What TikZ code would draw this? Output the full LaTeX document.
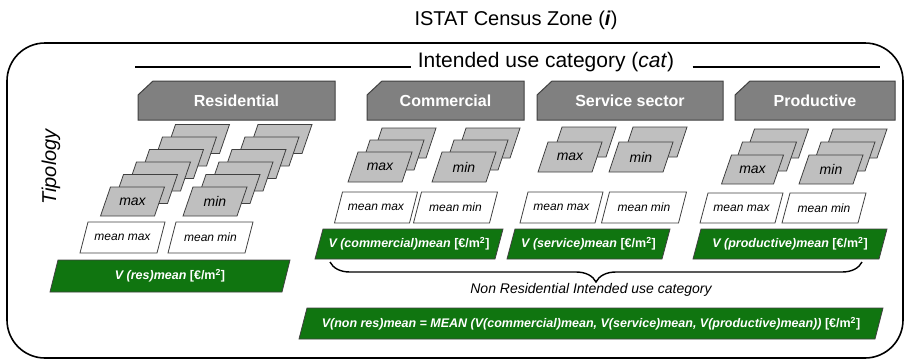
\documentclass[tikz,border=0pt]{standalone}
\usepackage{fontspec}
\setmainfont{Liberation Sans}
\usetikzlibrary{decorations.pathreplacing}

\definecolor{edgegray}{RGB}{64,64,64}
\definecolor{tabgray}{RGB}{128,128,128}
\definecolor{tilegray}{RGB}{191,191,191}
\definecolor{vgreen}{RGB}{16,117,16}

\tikzset{boxslant/.store in=\boxslant, boxslant=10}
% [style]{name}{cx}{cy}{width}{height}{text}
\newcommand{\slantbox}[7][]{%
  \path[#1] ({#3-#5/2},{#4+#6/2}) -- ({#3+#5/2-\boxslant},{#4+#6/2})
    -- ({#3+#5/2},{#4-#6/2}) -- ({#3-#5/2+\boxslant},{#4-#6/2}) -- cycle;
  \node[#1, draw=none, fill=none] (#2) at (#3,#4) {#7};}

\begin{document}
\begin{tikzpicture}[x=1pt, y=-1pt,
    tab/.style={draw=edgegray, fill=tabgray, line width=1pt},
    tablabel/.style={text=white, font=\bfseries\fontsize{16}{18}\selectfont},
    tile/.style={draw=edgegray, fill=tilegray, line width=0.8pt, boxslant=10, inner sep=1pt,
      font=\itshape\fontsize{14}{16}\selectfont},
    meanbox/.style={tile, fill=white, boxslant=8, font=\itshape\fontsize{12}{14}\selectfont},
    valbox/.style={tile, fill=vgreen, boxslant=8, text=white, font=\bfseries\fontsize{12.5}{14}\selectfont}]

  \useasboundingbox (0,0) rectangle (905,360);

  % census zone frame and titles
  \node[font=\fontsize{20}{24}\selectfont] (zone) at (516,20) {ISTAT Census Zone (\textbf{\textit{i}})};
  \draw[line width=1.6pt, rounded corners=38pt] (7,43) rectangle (903,358);
  \node[font=\fontsize{21}{24}\selectfont] (cat) at (546,62) {Intended use category (\textit{cat})};
  \coordinate (lineA) at (135,67);
  \coordinate (lineB) at (880,67);
  \draw[line width=2.5pt] (lineA) -- ([xshift=-3pt]cat.west |- lineA);
  \draw[line width=2.5pt] ([xshift=15pt]cat.east |- lineB) -- (lineB);
  \node[rotate=90, font=\itshape\fontsize{20}{24}\selectfont] (tip) at (51,167) {Tipology};

  % category tabs
  \foreach \nm/\xa/\xb/\lbl in {res/138/335/Residential, com/367/524/Commercial, ser/537/723/Service sector, pro/735/895/Productive}{
    \draw[tab] (\xa,95) -- (\xa+15,81) -- (\xb,81) -- (\xb,120) -- (\xa,120) -- cycle;
    \node[tablabel] (tab-\nm) at ({(\xa+\xb)/2},100.5) {\lbl};
  }

  % residential
  \foreach \k in {5,4,...,1}{
    \slantbox[tile]{res-max-\k}{132.5+13*\k}{201.5-12.5*\k}{64}{29}{}
    \slantbox[tile]{res-min-\k}{215+13*\k}{201.5-12.5*\k}{64}{29}{}
  }
  \slantbox[tile]{res-max}{132.5}{201.5}{64}{29}{max}
  \slantbox[tile]{res-min}{215}{201.5}{64}{29}{min}
  \slantbox[meanbox]{res-mmax}{122.5}{237.5}{85}{31}{mean max}
  \slantbox[meanbox]{res-mmin}{210.5}{237.5}{85}{31}{mean min}
  \slantbox[valbox]{res-v}{170}{276}{240}{32}{\textit{V (res)mean} [€/m\textsuperscript{2}]}

  % commercial
  \foreach \k in {2,1}{
    \slantbox[tile]{com-max-\k}{380+12*\k}{167-12*\k}{64}{30}{}
    \slantbox[tile]{com-min-\k}{464+12*\k}{167-12*\k}{64}{30}{}
  }
  \slantbox[tile]{com-max}{380}{167}{64}{30}{max}
  \slantbox[tile]{com-min}{464}{167}{64}{30}{min}
  \slantbox[meanbox]{com-mmax}{376}{207.5}{83}{31}{mean max}
  \slantbox[meanbox]{com-mmin}{455.5}{207.5}{84}{31}{mean min}
  \slantbox[valbox]{com-v}{409}{244}{188}{30}{\textit{V (commercial)mean} [€/m\textsuperscript{2}]}

  % service sector
  \slantbox[tile]{ser-max-1}{584}{142}{64}{30}{}
  \slantbox[tile]{ser-min-1}{655}{142}{64}{30}{}
  \slantbox[tile]{ser-max}{570}{157}{64}{30}{max}
  \slantbox[tile]{ser-min}{641}{157}{64}{30}{min}
  \slantbox[meanbox]{ser-mmax}{561.5}{207.5}{83}{31}{mean max}
  \slantbox[meanbox]{ser-mmin}{644}{207.5}{85}{31}{mean min}
  \slantbox[valbox]{ser-v}{588.5}{244}{163}{30}{\textit{V (service)mean} [€/m\textsuperscript{2}]}

  % productive
  \foreach \k in {2,1}{
    \slantbox[tile]{pro-max-\k}{752.5+12*\k}{169.5-13*\k}{64}{29}{}
    \slantbox[tile]{pro-min-\k}{831+12*\k}{169.5-13*\k}{64}{29}{}
  }
  \slantbox[tile]{pro-max}{752.5}{169.5}{62}{29}{max}
  \slantbox[tile]{pro-min}{831}{169.5}{64}{29}{min}
  \slantbox[meanbox]{pro-mmax}{741.5}{208}{83}{30}{mean max}
  \slantbox[meanbox]{pro-mmin}{824}{208}{84}{30}{mean min}
  \slantbox[valbox]{pro-v}{790}{244}{194}{30}{\textit{V (productive)mean} [€/m\textsuperscript{2}]}

  % non residential
  \coordinate (braceL) at (330,262);
  \coordinate (braceR) at (862,262);
  \draw[line width=1.4pt, decorate, decoration={brace, amplitude=20pt}] (braceR) -- (braceL);
  \node[font=\itshape\fontsize{14}{16}\selectfont] (nonres) at (591,290) {Non Residential Intended use category};
  \slantbox[valbox]{nonres-v}{591}{323.5}{584}{31}
    {\textit{V(non res)mean = MEAN (V(commercial)mean, V(service)mean, V(productive)mean))} [€/m\textsuperscript{2}]}
\end{tikzpicture}
\end{document}
